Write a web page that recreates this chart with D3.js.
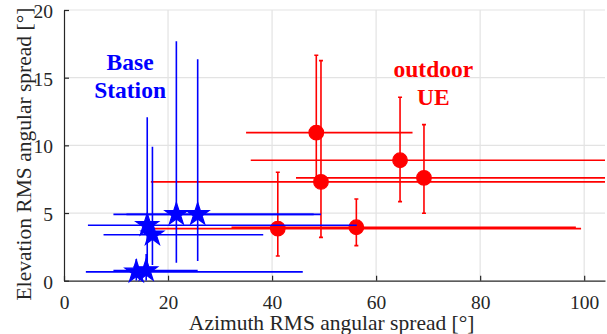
<!DOCTYPE html>
<html>
<head>
<meta charset="utf-8">
<script src="https://cdn.jsdelivr.net/npm/d3@7"></script>
<style>
  html, body { margin: 0; padding: 0; background: #fff; }
  svg { display: block; font-family: "Liberation Serif", "Times New Roman", serif; }
</style>
</head>
<body>
<div id="chart"></div>
<script>
// Base station points (azimuth / elevation RMS spread, with spread ranges)
const bsAz    = [16.0, 17.0, 21.6, 25.7, 13.9, 15.8];
const bsEl    = [4.1, 3.4, 4.9, 4.9, 0.65, 0.75];
const bsAzLo  = [4.6, 7.6, 9.5, 12.0, 4.2, 9.5];
const bsAzHi  = [56.3, 38.3, 49.4, 48.0, 45.9, 25.7];
const bsElLo  = [0.9, 1.16, 1.33, 1.46, 0, 0];
const bsElHi  = [12.07, 9.9, 17.7, 16.36, 1.6, 1.97];

// Outdoor UE points
const ueAz    = [41.1, 56.2, 48.5, 49.4, 64.6, 69.2];
const ueEl    = [3.85, 3.95, 10.94, 7.3, 8.9, 7.6];
const ueAzLo  = [16.9, 32.2, 35.0, 16.7, 35.9, 44.6];
const ueAzHi  = [99.4, 98.4, 67.0, 115, 115, 115];
const ueElLo  = [1.83, 2.59, 7.3, 3.2, 5.84, 4.98];
const ueElHi  = [8.01, 6.04, 16.66, 16.26, 13.55, 11.53];

const xTicks = [0, 20, 40, 60, 80, 100];
const yTicks = [0, 5, 10, 15, 20];

const width = 607, height = 334;
const x = d3.scaleLinear().domain([0, 104]).range([64, 605]);
const y = d3.scaleLinear().domain([0, 20]).range([280.7, 10]);

const svg = d3.select('#chart').append('svg')
  .attr('width', width)
  .attr('height', height);

svg.append('clipPath').attr('id', 'plotclip')
  .append('rect')
  .attr('x', x(0)).attr('y', y(20))
  .attr('width', x(104) - x(0)).attr('height', y(0) - y(20));

// grid
const grid = svg.append('g').attr('stroke', '#e3e3e3').attr('stroke-width', 1.2);
grid.selectAll('.gx').data(xTicks.filter(d => d > 0)).join('line')
  .attr('x1', d => x(d)).attr('x2', d => x(d))
  .attr('y1', y(0)).attr('y2', y(20));
grid.selectAll('.gy').data(yTicks.filter(d => d > 0)).join('line')
  .attr('x1', x(0)).attr('x2', x(104))
  .attr('y1', d => y(d)).attr('y2', d => y(d));

// axes (ticks pointing inward, like matlab)
const xAxis = d3.axisBottom(x).tickValues(xTicks).tickSizeInner(-5).tickSizeOuter(0).tickPadding(14);
const yAxis = d3.axisLeft(y).tickValues(yTicks).tickSizeInner(-5).tickSizeOuter(0).tickPadding(11);

const gx = svg.append('g').attr('transform', `translate(0,${y(0)})`).call(xAxis);
const gy = svg.append('g').attr('transform', `translate(${x(0)},0)`).call(yAxis);
[gx, gy].forEach(g => {
  g.select('.domain').attr('stroke', '#262626').attr('stroke-width', 1.2);
  g.selectAll('.tick line').attr('stroke', '#262626').attr('stroke-width', 1.2);
  g.selectAll('.tick text')
    .attr('fill', '#262626')
    .style('font-family', '"Liberation Serif", serif')
    .style('font-size', '19.5px');
});
gy.selectAll('.tick text').attr('dy', '0.38em');

// axis titles
svg.append('text')
  .attr('x', 331.7).attr('y', 329.5)
  .attr('text-anchor', 'middle')
  .attr('fill', '#262626')
  .style('font-size', '21.5px')
  .text('Azimuth RMS angular spread [°]');

svg.append('text')
  .attr('transform', 'translate(31,154) rotate(-90)')
  .attr('text-anchor', 'middle')
  .attr('fill', '#262626')
  .style('font-size', '21.5px')
  .text('Elevation RMS angular spread [°]');

// error bars + markers
function drawSeries(az, el, azLo, azHi, elLo, elHi, color, cap, marker) {
  const rows = az.map((d, i) => ({ az: d, el: el[i], azLo: azLo[i], azHi: azHi[i], elLo: elLo[i], elHi: elHi[i] }));
  const g = svg.append('g');
  const bars = g.append('g')
    .attr('clip-path', 'url(#plotclip)')
    .attr('stroke', color)
    .attr('stroke-width', 1.6)
    .attr('fill', 'none');

  rows.forEach(r => {
    bars.append('line')
      .attr('x1', x(r.azLo)).attr('x2', x(r.azHi))
      .attr('y1', y(r.el)).attr('y2', y(r.el));
    bars.append('line')
      .attr('x1', x(r.az)).attr('x2', x(r.az))
      .attr('y1', y(r.elLo)).attr('y2', y(r.elHi));
    // small caps only on the vertical bars
    if (cap > 0) {
      [r.elLo, r.elHi].forEach(v => {
        bars.append('line')
          .attr('x1', x(r.az) - cap).attr('x2', x(r.az) + cap)
          .attr('y1', y(v)).attr('y2', y(v));
      });
    }
  });

  g.selectAll('.mk').data(rows).join('path')
    .attr('transform', d => `translate(${x(d.az)},${y(d.el)})`)
    .attr('d', marker)
    .attr('fill', color)
    .attr('stroke', color)
    .attr('stroke-width', 1.2);
}

drawSeries(ueAz, ueEl, ueAzLo, ueAzHi, ueElLo, ueElHi, '#ff0000', 2,
  d3.symbol().type(d3.symbolCircle).size(Math.PI * 7.3 * 7.3)());
drawSeries(bsAz, bsEl, bsAzLo, bsAzHi, bsElLo, bsElHi, '#0000ff', 0,
  d3.symbol().type(d3.symbolStar).size(160)());

// annotations
const notes = [
  { lines: ['Base', 'Station'], x: 12.7, y: 15.55, color: '#0000ff' },
  { lines: ['outdoor', 'UE'], x: 71.0, y: 15.04, color: '#ff0000' }
];
notes.forEach(n => {
  const t = svg.append('text')
    .attr('text-anchor', 'middle')
    .attr('fill', n.color)
    .style('font-weight', 'bold')
    .style('font-size', '23.5px');
  n.lines.forEach((s, i) => {
    t.append('tspan')
      .attr('x', x(n.x))
      .attr('y', y(n.y) + i * 27.5)
      .text(s);
  });
});
</script>
</body>
</html>
